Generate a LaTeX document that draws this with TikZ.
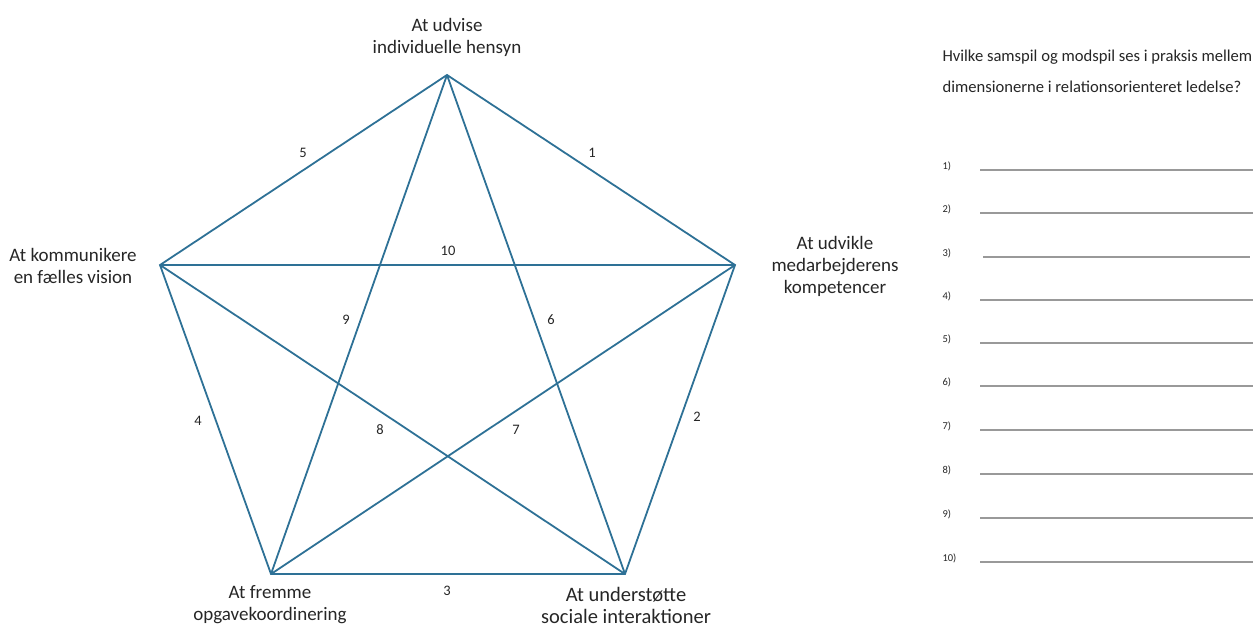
\documentclass[tikz,border=0pt]{standalone}
\usepackage{fontspec}
\setmainfont{Carlito}
\definecolor{edgeblue}{HTML}{2E7196}
\definecolor{textgray}{HTML}{262626}
\tikzset{
  dim/.style={align=center,font=\fontsize{19}{22}\selectfont,text=textgray},
  num/.style={font=\fontsize{14.5}{16}\selectfont,text=textgray},
  rel/.style={edgeblue,line width=1.8pt},
  ans/.style={gray!80,line width=1.1pt},
  ansnum/.style={font=\fontsize{10.5}{12}\selectfont,text=textgray,anchor=west},
  question/.style={anchor=west,font=\fontsize{16.6}{19}\selectfont,text=textgray}
}
\begin{document}
\begin{tikzpicture}[x=1pt,y=-1pt]
\useasboundingbox (0,0) rectangle (1258,628);
\coordinate (top) at (447,75);
\coordinate (left) at (160,265);
\coordinate (right) at (735,265);
\coordinate (bl) at (271,574);
\coordinate (br) at (625,574);
\draw[rel] (top) -- (right) -- (br) -- (bl) -- (left) -- cycle;
\draw[rel] (top) -- (bl);
\draw[rel] (top) -- (br);
\draw[rel] (left) -- (right);
\draw[rel] (left) -- (br);
\draw[rel] (right) -- (bl);
\node[dim] (udvise) at (447,37) {At udvise\\individuelle hensyn};
\node[dim] (kommunikere) at (73,266) {At kommunikere\\en fælles vision};
\node[dim] (udvikle) at (835,266) {At udvikle\\medarbejderens\\kompetencer};
\node[dim] (fremme) at (270,605) {At fremme\\opgavekoordinering};
\node[dim,font=\fontsize{20.5}{22}\selectfont] (understotte) at (626,605) {At understøtte\\sociale interaktioner};
\node[num] (n1) at (592,153) {1};
\node[num] (n2) at (697,417) {2};
\node[num] (n3) at (447,591) {3};
\node[num] (n4) at (198,421) {4};
\node[num] (n5) at (303,153) {5};
\node[num] (n6) at (551,320) {6};
\node[num] (n7) at (516,430) {7};
\node[num] (n8) at (380,430) {8};
\node[num] (n9) at (346,320) {9};
\node[num] (n10) at (448,251) {10};
\node[question] (q1) at (939,57) {Hvilke samspil og modspil ses i praksis mellem};
\node[question] (q2) at (939,87) {dimensionerne i relationsorienteret ledelse?};
\foreach \i/\y/\xa/\xb in {1/170/980/1253,2/213/980/1253,3/257/983/1250,4/300/980/1253,5/343/980/1253,6/386/980/1253,7/430/980/1253,8/474/980/1253,9/518/980/1253,10/562/980/1253} {
  \node[ansnum] (a\i) at (939,\y-4) {\i)};
  \coordinate (s\i) at (\xa,\y);
  \coordinate (e\i) at (\xb,\y);
  \draw[ans] (s\i) -- (e\i);
}
\end{tikzpicture}
\end{document}
